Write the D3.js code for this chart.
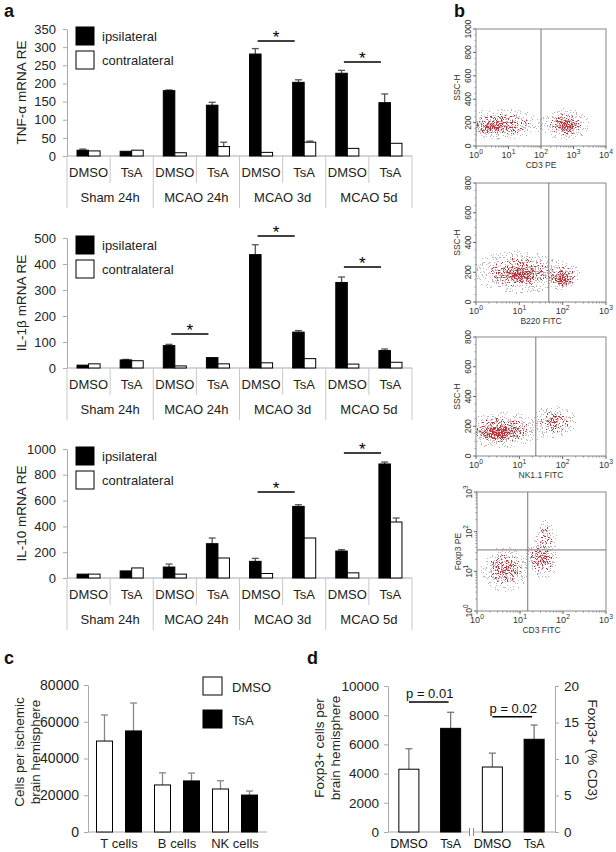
<!DOCTYPE html>
<html>
<head>
<meta charset="utf-8">
<script src="https://cdn.jsdelivr.net/npm/d3@7"></script>
<style>
  body { margin: 0; background: #fff; }
  svg { display: block; font-family: "Liberation Sans", Arial, sans-serif; }
</style>
</head>
<body>
<svg width="616" height="852"></svg>
<script>
// ---------- data ----------
var groups = ['Sham 24h', 'MCAO 24h', 'MCAO 3d', 'MCAO 5d'];
var treatments = ['DMSO', 'TsA'];

// panel a, one value per group x treatment (8)
var tnfIpsi = [16, 13, 180, 140, 281, 203, 228, 147];
var tnfIpsiErr = [3, 0, 2, 8, 15, 7, 8, 24];
var tnfContra = [14, 16, 9, 26, 10, 38, 21, 35];
var tnfContraErr = [0, 0, 0, 12, 0, 3, 0, 0];

var il1Ipsi = [11, 31, 86, 40, 436, 138, 329, 67];
var il1IpsiErr = [0, 2, 5, 0, 38, 6, 21, 6];
var il1Contra = [16, 28, 8, 16, 20, 36, 15, 22];
var il1ContraErr = [0, 0, 0, 0, 0, 0, 0, 0];

var il10Ipsi = [30, 55, 85, 266, 129, 555, 209, 884];
var il10IpsiErr = [0, 0, 23, 44, 23, 13, 11, 15];
var il10Contra = [30, 78, 30, 155, 35, 310, 40, 434];
var il10ContraErr = [0, 0, 0, 3, 0, 0, 0, 31];

// significance bars: [category index of DMSO, height in data units]
var tnfSig = [[4, 317], [6, 259]];
var il1Sig = [[2, 131], [4, 508], [6, 388]];
var il10Sig = [[4, 667], [6, 969]];

// panel b, cell clusters: [log10 x centre, y centre, x spread (decades), y spread, density]
var cd3Clusters = [[0.8, 185, 1.05, 110, 0.5], [0.45, 160, 0.55, 55, 0.7], [2.75, 185, 0.6, 110, 0.55], [2.8, 170, 0.3, 55, 1.0]];
var b220Clusters = [[1.0, 200, 0.9, 120, 0.5], [1.0, 180, 0.5, 60, 0.7], [2.0, 170, 0.35, 80, 0.55], [2.0, 150, 0.2, 45, 1.0]];
var nk11Clusters = [[0.6, 175, 0.8, 100, 0.55], [0.5, 155, 0.45, 50, 1.0], [1.8, 230, 0.45, 90, 0.45]];
var foxp3Clusters = [[0.65, 1.05, 0.45, 0.45, 0.6], [1.5, 1.3, 0.32, 0.38, 0.65], [1.6, 1.85, 0.22, 0.38, 0.35]];

// panel c
var cellTypes = ['T cells', 'B cells', 'NK cells'];
var dmsoCells = [49500, 25600, 23400];
var dmsoCellsErr = [14200, 6600, 4500];
var tsaCells = [55000, 27800, 20100];
var tsaCellsErr = [15200, 4300, 2200];

// panel d
var foxLabels = ['DMSO', 'TsA', 'DMSO', 'TsA'];
var foxCount = [4300, 7100];
var foxCountErr = [1400, 1100];
var foxPct = [8.9, 12.7];
var foxPctErr = [1.9, 1.95];

// ---------- drawing ----------
var svg = d3.select('svg');
var defs = svg.append('defs');
var plain = d3.format('d');

function styleAxis(sel, size) {
  sel.attr('font-family', null).attr('font-size', size);
  sel.selectAll('path.domain').attr('stroke', '#aaa');
  sel.selectAll('.tick line').attr('stroke', '#aaa');
  sel.selectAll('.tick text').attr('fill', '#222');
}

function panelLabel(t, x, y) {
  svg.append('text').attr('x', x).attr('y', y).attr('font-size', 18)
    .attr('font-weight', 'bold').attr('fill', '#111').text(t);
}

function vLabel(g, x, y, size, txt, angle) {
  g.append('text').attr('transform', 'translate(' + x + ',' + y + ') rotate(' + (angle || -90) + ')')
    .attr('text-anchor', 'middle').attr('font-size', size).attr('fill', '#222').text(txt);
}

function errBar(g, x, y1, y2, color) {
  if (Math.abs(y1 - y2) < 0.5) return;
  g.append('line').attr('x1', x).attr('x2', x).attr('y1', y1).attr('y2', y2)
    .attr('stroke', color).attr('stroke-width', 1.3);
  g.append('line').attr('x1', x - 3.5).attr('x2', x + 3.5).attr('y1', y2).attr('y2', y2)
    .attr('stroke', color).attr('stroke-width', 1.3);
}

function drawMrna(o) {
  var x = d3.scaleBand().domain(d3.range(8)).range([67, 412]);
  var bw = x.bandwidth();
  var sub = d3.scaleBand().domain(['ipsi', 'contra']).range([0, bw]).paddingOuter(0.87);
  var y = d3.scaleLinear().domain([0, o.max]).range([o.y0, o.yTop]);
  var g = svg.append('g');

  g.append('g').attr('transform', 'translate(67,0)')
    .call(d3.axisLeft(y).tickValues(d3.range(0, o.max + 1, o.step)).tickFormat(plain)
      .tickSize(4).tickSizeOuter(0).tickPadding(7))
    .call(styleAxis, 13);

  // category table
  g.append('line').attr('x1', 67).attr('x2', 412).attr('y1', o.y0).attr('y2', o.y0).attr('stroke', '#aaa');
  d3.range(9).forEach(function (i) {
    var xx = i < 8 ? x(i) : 412;
    g.append('line').attr('x1', xx).attr('x2', xx).attr('y1', o.y0)
      .attr('y2', o.y0 + (i % 2 ? 27 : 52)).attr('stroke', '#c8c8c8');
  });
  d3.range(8).forEach(function (i) {
    g.append('text').attr('x', x(i) + bw / 2).attr('y', o.y0 + 21).attr('text-anchor', 'middle')
      .attr('font-size', 13).attr('fill', '#222').text(treatments[i % 2]);
  });
  groups.forEach(function (gr, k) {
    g.append('text').attr('x', x(2 * k) + bw).attr('y', o.y0 + 46).attr('text-anchor', 'middle')
      .attr('font-size', 13).attr('fill', '#222').text(gr);
  });

  // bars
  d3.range(8).forEach(function (i) {
    [['ipsi', o.ipsi, o.ipsiErr, '#000'], ['contra', o.contra, o.contraErr, '#fff']].forEach(function (s) {
      var bx = x(i) + sub(s[0]);
      var v = s[1][i];
      errBar(g, bx + sub.bandwidth() / 2, y(v), y(v + s[2][i]), '#555');
      g.append('rect').attr('x', bx).attr('y', y(v)).attr('width', sub.bandwidth())
        .attr('height', o.y0 - y(v)).attr('fill', s[3]).attr('stroke', '#000').attr('stroke-width', 1);
    });
  });

  // significance
  o.sig.forEach(function (s) {
    var x1 = x(s[0]) + 0.42 * bw, x2 = x(s[0] + 1) + 0.28 * bw, yy = y(s[1]);
    g.append('line').attr('x1', x1).attr('x2', x2).attr('y1', yy).attr('y2', yy)
      .attr('stroke', '#000').attr('stroke-width', 1.5);
    g.append('text').attr('x', (x1 + x2) / 2).attr('y', yy + 2).attr('text-anchor', 'middle')
      .attr('font-size', 17).attr('fill', '#000').text('*');
  });

  // legend
  var ly = o.yTop - 2;
  [['ipsilateral', '#000'], ['contralateral', '#fff']].forEach(function (l, k) {
    g.append('rect').attr('x', 76).attr('y', ly + k * 24).attr('width', 18).attr('height', 18)
      .attr('fill', l[1]).attr('stroke', '#000');
    g.append('text').attr('x', 102).attr('y', ly + k * 24 + 14).attr('font-size', 13)
      .attr('fill', '#222').text(l[0]);
  });

  vLabel(g, 26, (o.y0 + o.yTop) / 2, 13.5, o.label);
}

drawMrna({ yTop: 29, y0: 156, max: 350, step: 50, label: 'TNF-α mRNA RE',
  ipsi: tnfIpsi, ipsiErr: tnfIpsiErr, contra: tnfContra, contraErr: tnfContraErr, sig: tnfSig });
drawMrna({ yTop: 238, y0: 368, max: 500, step: 100, label: 'IL-1β mRNA RE',
  ipsi: il1Ipsi, ipsiErr: il1IpsiErr, contra: il1Contra, contraErr: il1ContraErr, sig: il1Sig });
drawMrna({ yTop: 449, y0: 578, max: 1000, step: 200, label: 'IL-10 mRNA RE',
  ipsi: il10Ipsi, ipsiErr: il10IpsiErr, contra: il10Contra, contraErr: il10ContraErr, sig: il10Sig });

// ---------- panel b ----------
// density field -> speckled dots through a noise threshold
var fade = defs.append('radialGradient').attr('id', 'fade');
fade.append('stop').attr('offset', 0).attr('stop-color', '#000').attr('stop-opacity', 1);
fade.append('stop').attr('offset', 0.5).attr('stop-color', '#000').attr('stop-opacity', 0.6);
fade.append('stop').attr('offset', 1).attr('stop-color', '#000').attr('stop-opacity', 0);

function speckFilter(id, seed, color, k4) {
  var f = defs.append('filter').attr('id', id).attr('filterUnits', 'userSpaceOnUse')
    .attr('x', 440).attr('y', 0).attr('width', 176).attr('height', 640)
    .attr('color-interpolation-filters', 'sRGB');
  f.append('feTurbulence').attr('type', 'fractalNoise').attr('baseFrequency', 0.8)
    .attr('numOctaves', 2).attr('seed', seed).attr('result', 'noise');
  f.append('feComponentTransfer').attr('in', 'noise').attr('result', 'nc')
    .append('feFuncR').attr('type', 'linear').attr('slope', 3).attr('intercept', -1);
  f.append('feColorMatrix').attr('in', 'nc').attr('type', 'matrix')
    .attr('values', '0 0 0 0 0  0 0 0 0 0  0 0 0 0 0  1 0 0 0 0').attr('result', 'na');
  f.append('feComposite').attr('in', 'SourceGraphic').attr('in2', 'na').attr('operator', 'arithmetic')
    .attr('k1', 0).attr('k2', 0.8).attr('k3', 1).attr('k4', k4).attr('result', 'sum');
  f.append('feComponentTransfer').attr('in', 'sum').attr('result', 'th')
    .append('feFuncA').attr('type', 'discrete').attr('tableValues', '0 1');
  f.append('feFlood').attr('flood-color', color).attr('result', 'col');
  f.append('feComposite').attr('in', 'col').attr('in2', 'th').attr('operator', 'in');
}
speckFilter('speckRed', 7, '#c4323a', -0.6);
speckFilter('speckGrey', 19, '#c2b2b4', -0.56);

function supText(sel, base, exp, size) {
  sel.append('tspan').text(base);
  sel.append('tspan').attr('dy', -size * 0.45).attr('font-size', size * 0.75).text(exp);
}

function drawFacs(o, idx) {
  var x = d3.scaleLog().domain([1, Math.pow(10, o.xDec)]).range([o.x0, o.x1]);
  var y = o.yLog ? d3.scaleLog().domain([1, 1000]).range([o.y1, o.y0])
                 : d3.scaleLinear().domain([0, o.yMax]).range([o.y1, o.y0]);
  var yv = function (v) { return o.yLog ? y(Math.pow(10, v)) : y(v); };
  var g = svg.append('g');
  var cid = 'clip' + idx;
  defs.append('clipPath').attr('id', cid).append('rect')
    .attr('x', o.x0).attr('y', o.y0).attr('width', o.x1 - o.x0).attr('height', o.y1 - o.y0);

  var cl = g.append('g').attr('clip-path', 'url(#' + cid + ')');
  ['speckGrey', 'speckRed'].forEach(function (fid, layer) {
    var lg = cl.append('g').attr('filter', 'url(#' + fid + ')');
    o.clusters.forEach(function (c) {
      var grow = layer === 0 ? 1.4 : 1;
      var cx = x(Math.pow(10, c[0])), rx = (x(Math.pow(10, c[0] + c[2])) - cx) * grow;
      var cy = yv(c[1]), ry = (cy - yv(c[1] + c[3])) * grow;
      lg.append('ellipse').attr('cx', cx).attr('cy', cy).attr('rx', rx).attr('ry', ry)
        .attr('fill', 'url(#fade)').attr('opacity', c[4]);
    });
  });

  g.append('rect').attr('x', o.x0).attr('y', o.y0).attr('width', o.x1 - o.x0).attr('height', o.y1 - o.y0)
    .attr('fill', 'none').attr('stroke', '#888').attr('stroke-width', 1);
  if (o.gateX != null) {
    var gx = x(Math.pow(10, o.gateX));
    g.append('line').attr('x1', gx).attr('x2', gx).attr('y1', o.y0).attr('y2', o.y1).attr('stroke', '#777');
  }
  if (o.gateY != null) {
    var gy = yv(o.gateY);
    g.append('line').attr('x1', o.x0).attr('x2', o.x1).attr('y1', gy).attr('y2', gy).attr('stroke', '#777');
  }

  // x ticks
  d3.range(o.xDec + 1).forEach(function (k) {
    var tx = x(Math.pow(10, k));
    g.append('line').attr('x1', tx).attr('x2', tx).attr('y1', o.y1).attr('y2', o.y1 + 3).attr('stroke', '#666');
    supText(g.append('text').attr('x', tx).attr('y', o.y1 + 12).attr('text-anchor', 'middle')
      .attr('font-size', 9).attr('fill', '#333'), '10', k, 9);
    if (k < o.xDec) d3.range(2, 10).forEach(function (m) {
      var mx = x(m * Math.pow(10, k));
      g.append('line').attr('x1', mx).attr('x2', mx).attr('y1', o.y1).attr('y2', o.y1 + 1.5).attr('stroke', '#888');
    });
  });
  g.append('text').attr('x', (o.x0 + o.x1) / 2).attr('y', o.y1 + 22).attr('text-anchor', 'middle')
    .attr('font-size', 8.5).attr('fill', '#333').text(o.xLabel);

  // y ticks
  if (o.yLog) {
    d3.range(4).forEach(function (k) {
      var ty = y(Math.pow(10, k));
      g.append('line').attr('x1', o.x0 - 3).attr('x2', o.x0).attr('y1', ty).attr('y2', ty).attr('stroke', '#666');
      supText(g.append('text').attr('transform', 'translate(' + (o.x0 - 5) + ',' + ty + ') rotate(-90)')
        .attr('text-anchor', 'middle').attr('font-size', 8.5).attr('fill', '#333'), '10', k, 8.5);
      if (k < 3) d3.range(2, 10).forEach(function (m) {
        var my = y(m * Math.pow(10, k));
        g.append('line').attr('x1', o.x0 - 1.5).attr('x2', o.x0).attr('y1', my).attr('y2', my).attr('stroke', '#888');
      });
    });
  } else {
    d3.range(0, o.yMax + 1, 50).forEach(function (v) {
      var major = v % 200 === 0;
      g.append('line').attr('x1', o.x0 - (major ? 3 : 1.5)).attr('x2', o.x0).attr('y1', y(v)).attr('y2', y(v))
        .attr('stroke', major ? '#666' : '#999');
      if (major) g.append('text').attr('transform', 'translate(' + (o.x0 - 5) + ',' + y(v) + ') rotate(-90)')
        .attr('text-anchor', 'middle').attr('font-size', 8.5).attr('fill', '#333').text(v);
    });
  }
  g.append('text').attr('transform', 'translate(' + (o.x0 - 16) + ',' + (o.y0 + o.y1) / 2 + ') rotate(-90)')
    .attr('text-anchor', 'middle').attr('font-size', 8.5).attr('fill', '#333').text(o.yLabel);
}

drawFacs({ x0: 476, x1: 606, y0: 29, y1: 146, xDec: 4, yMax: 1000, gateX: 2,
  clusters: cd3Clusters, xLabel: 'CD3 PE', yLabel: 'SSC-H' }, 1);
drawFacs({ x0: 476, x1: 606, y0: 183, y1: 302, xDec: 3, yMax: 800, gateX: 1.68,
  clusters: b220Clusters, xLabel: 'B220 FITC', yLabel: 'SSC-H' }, 2);
drawFacs({ x0: 476, x1: 606, y0: 337, y1: 456, xDec: 3, yMax: 800, gateX: 1.38,
  clusters: nk11Clusters, xLabel: 'NK1.1 FITC', yLabel: 'SSC-H' }, 3);
drawFacs({ x0: 477, x1: 606, y0: 492, y1: 611, xDec: 3, yLog: true, gateX: 1.18, gateY: 1.54,
  clusters: foxp3Clusters, xLabel: 'CD3 FITC', yLabel: 'Foxp3 PE' }, 4);

// ---------- panel c ----------
(function () {
  var g = svg.append('g');
  var x = d3.scaleBand().domain(cellTypes).range([90, 264]);
  var y = d3.scaleLinear().domain([0, 80000]).range([832, 685]);
  g.append('g').attr('transform', 'translate(88,0)')
    .call(d3.axisLeft(y).tickValues(d3.range(0, 80001, 20000)).tickFormat(plain)
      .tickSize(4).tickSizeOuter(0).tickPadding(5))
    .call(styleAxis, 14);
  g.append('line').attr('x1', 88).attr('x2', 267).attr('y1', 832).attr('y2', 832).attr('stroke', '#aaa');
  cellTypes.forEach(function (c, i) {
    var cx = x(c) + x.bandwidth() / 2;
    [[dmsoCells, dmsoCellsErr, '#fff', -14.5], [tsaCells, tsaCellsErr, '#000', 14.5]].forEach(function (s) {
      var bx = cx + s[3] - 8;
      errBar(g, bx + 8, y(s[0][i]), y(s[0][i] + s[1][i]), '#888');
      g.append('rect').attr('x', bx).attr('y', y(s[0][i])).attr('width', 16).attr('height', 832 - y(s[0][i]))
        .attr('fill', s[2]).attr('stroke', '#000');
    });
    g.append('text').attr('x', cx).attr('y', 848).attr('text-anchor', 'middle').attr('font-size', 13)
      .attr('fill', '#222').text(c);
  });
  [['DMSO', '#fff'], ['TsA', '#000']].forEach(function (l, k) {
    g.append('rect').attr('x', 203).attr('y', 677 + k * 33).attr('width', 19).attr('height', 18)
      .attr('fill', l[1]).attr('stroke', '#000');
    g.append('text').attr('x', 232).attr('y', 692 + k * 33).attr('font-size', 13).attr('fill', '#222').text(l[0]);
  });
  vLabel(g, 24, 752, 13.5, 'Cells per ischemic');
  vLabel(g, 40, 752, 13.5, 'brain hemisphere');
})();

// ---------- panel d ----------
(function () {
  var g = svg.append('g');
  var x = d3.scaleBand().domain(d3.range(4)).range([388, 555]).paddingInner(0.52).paddingOuter(0.26);
  var yL = d3.scaleLinear().domain([0, 10000]).range([832, 686]);
  var yR = d3.scaleLinear().domain([0, 20]).range([832, 686]);
  g.append('g').attr('transform', 'translate(388,0)')
    .call(d3.axisLeft(yL).tickValues(d3.range(0, 10001, 2000)).tickFormat(plain)
      .tickSize(4).tickSizeOuter(0).tickPadding(5))
    .call(styleAxis, 13.5);
  g.append('g').attr('transform', 'translate(555,0)')
    .call(d3.axisRight(yR).tickValues(d3.range(0, 21, 5)).tickSize(4).tickSizeOuter(0).tickPadding(5))
    .call(styleAxis, 13.5);
  g.append('line').attr('x1', 388).attr('x2', 555).attr('y1', 832).attr('y2', 832).attr('stroke', '#aaa');
  // axis break
  var bxk = (x(1) + x.bandwidth() + x(2)) / 2;
  g.append('rect').attr('x', bxk - 2).attr('y', 829).attr('width', 4).attr('height', 6).attr('fill', '#fff');
  [-2, 2].forEach(function (d) {
    g.append('line').attr('x1', bxk + d).attr('x2', bxk + d).attr('y1', 828).attr('y2', 836).attr('stroke', '#888');
  });

  var bars = [
    [foxCount[0], foxCountErr[0], yL, '#fff'], [foxCount[1], foxCountErr[1], yL, '#000'],
    [foxPct[0], foxPctErr[0], yR, '#fff'], [foxPct[1], foxPctErr[1], yR, '#000']
  ];
  bars.forEach(function (b, i) {
    var bx = x(i), w = x.bandwidth(), ys = b[2];
    errBar(g, bx + w / 2, ys(b[0]), ys(b[0] + b[1]), '#777');
    g.append('rect').attr('x', bx).attr('y', ys(b[0])).attr('width', w).attr('height', 832 - ys(b[0]))
      .attr('fill', b[3]).attr('stroke', '#000');
    g.append('text').attr('x', bx + w / 2).attr('y', 848).attr('text-anchor', 'middle').attr('font-size', 12.5)
      .attr('fill', '#111').text(foxLabels[i]);
  });

  [[0, yL(8900), 'p = 0.01'], [2, yL(7900), 'p = 0.02']].forEach(function (s) {
    var x1 = x(s[0]) + 0.5 * x.bandwidth(), x2 = x(s[0] + 1) + 0.4 * x.bandwidth();
    g.append('line').attr('x1', x1).attr('x2', x2).attr('y1', s[1]).attr('y2', s[1]).attr('stroke', '#000').attr('stroke-width', 1.5);
    g.append('text').attr('x', (x1 + x2) / 2 + 1).attr('y', s[1] - 4).attr('text-anchor', 'middle')
      .attr('font-size', 13).attr('fill', '#111').text(s[2]);
  });

  vLabel(g, 324, 748, 13.5, 'Foxp3+ cells per');
  vLabel(g, 340, 748, 13.5, 'brain hemisphere');
  vLabel(g, 588, 750, 13.5, 'Foxp3+ (% CD3)', 90);
})();

panelLabel('a', 4, 17);
panelLabel('b', 454, 17);
panelLabel('c', 4, 664);
panelLabel('d', 307, 664);
</script>
</body>
</html>
